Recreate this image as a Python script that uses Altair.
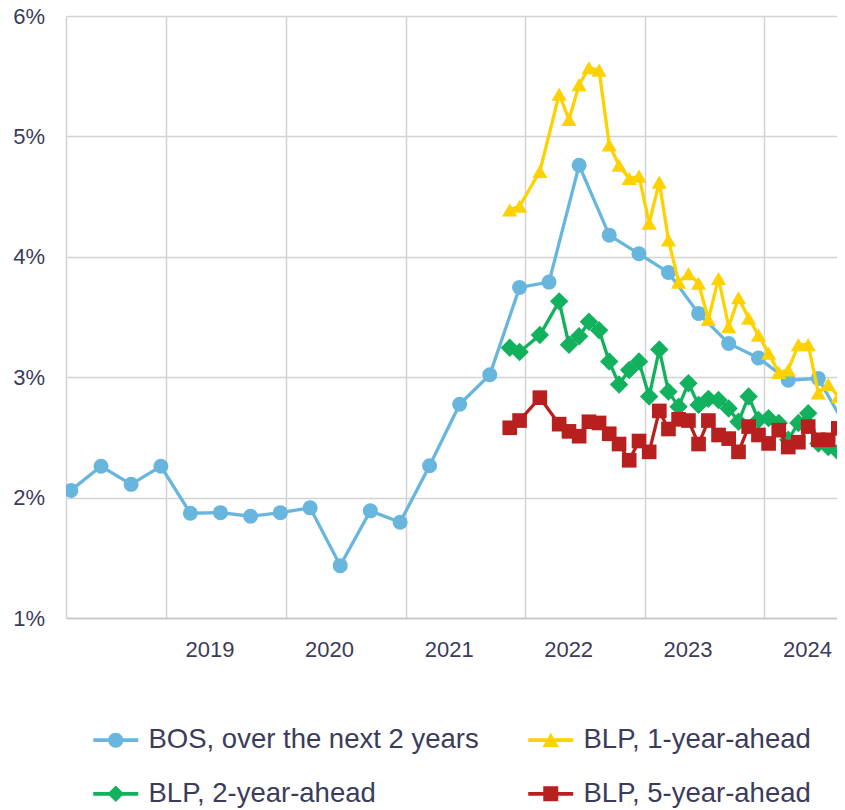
import altair as alt
import pandas as pd

# ---------------- data ----------------
bos_dates = [
    "2018-03-15", "2018-06-15", "2018-09-15", "2018-12-15",
    "2019-03-15", "2019-06-15", "2019-09-15", "2019-12-15",
    "2020-03-15", "2020-06-15", "2020-09-15", "2020-12-15",
    "2021-03-15", "2021-06-15", "2021-09-15", "2021-12-15",
    "2022-03-15", "2022-06-15", "2022-09-15", "2022-12-15",
    "2023-03-15", "2023-06-15", "2023-09-15", "2023-12-15",
    "2024-03-15", "2024-06-15", "2024-09-15",
]
bos_values = [
    2.06, 2.26, 2.11, 2.26,
    1.87, 1.875, 1.845, 1.875,
    1.915, 1.435, 1.89, 1.795,
    2.265, 2.775, 3.02, 3.745,
    3.79, 4.76, 4.18, 4.025,
    3.87, 3.53, 3.28, 3.16,
    2.975, 2.99, 2.55,
]

blp_dates = [
    "2021-11-15", "2021-12-15", "2022-02-15", "2022-04-15", "2022-05-15",
    "2022-06-15", "2022-07-15", "2022-08-15", "2022-09-15", "2022-10-15",
    "2022-11-15", "2022-12-15", "2023-01-15", "2023-02-15", "2023-03-15",
    "2023-04-15", "2023-05-15", "2023-06-15", "2023-07-15", "2023-08-15",
    "2023-09-15", "2023-10-15", "2023-11-15", "2023-12-15", "2024-01-15",
    "2024-02-15", "2024-03-15", "2024-04-15", "2024-05-15", "2024-06-15",
    "2024-07-15", "2024-08-15",
]
blp_1y_dates = blp_dates + ["2024-09-15"]
blp_1y = [
    4.39, 4.42, 4.71, 5.35, 5.14, 5.43, 5.57, 5.55, 4.93, 4.76, 4.65, 4.67,
    4.28, 4.62, 4.14, 3.79, 3.86, 3.78, 3.48, 3.82, 3.42, 3.66, 3.49, 3.35,
    3.20, 3.04, 3.06, 3.27, 3.27, 2.87, 2.94, 2.84, 2.52,
]
blp_2y = [
    3.245, 3.21, 3.35, 3.63, 3.27, 3.34, 3.46, 3.39, 3.13, 2.94, 3.06, 3.13,
    2.84, 3.23, 2.88, 2.755, 2.95, 2.77, 2.82, 2.81, 2.74, 2.63, 2.84, 2.645,
    2.66, 2.62, 2.48, 2.62, 2.70, 2.45, 2.42, 2.38,
]
blp_5y = [
    2.58, 2.64, 2.83, 2.61, 2.55, 2.51, 2.63, 2.62, 2.53, 2.445, 2.31, 2.47,
    2.38, 2.72, 2.57, 2.65, 2.64, 2.445, 2.64, 2.52, 2.49, 2.38, 2.59, 2.52,
    2.45, 2.56, 2.42, 2.46, 2.59, 2.48, 2.48, 2.575,
]

series_names = [
    "BOS, over the next 2 years",
    "BLP, 1-year-ahead",
    "BLP, 2-year-ahead",
    "BLP, 5-year-ahead",
]
series_colors = ["#68b6dd", "#fdd200", "#12b15e", "#b8201f"]
series_shapes = ["circle", "triangle-up", "diamond", "square"]
series_sizes = [225, 230, 340, 215]

# legend symbols: line + marker (unit = sqrt(size)/2 px)
legend_paths = [
    "M-3,-0.25H3V0.25H-3Z M1,0A1,1,0,1,1,-1,0A1,1,0,1,1,1,0Z",
    "M-3,-0.25H3V0.25H-3Z M0,-1L1.1,0.9L-1.1,0.9Z",
    "M-3,-0.25H3V0.25H-3Z M0,-1.1L1.1,0L0,1.1L-1.1,0Z",
    "M-3,-0.25H3V0.25H-3Z M-1,-1H1V1H-1Z",
]

frames = [
    pd.DataFrame({"date": bos_dates, "value": bos_values, "series": series_names[0]}),
    pd.DataFrame({"date": blp_1y_dates, "value": blp_1y, "series": series_names[1]}),
    pd.DataFrame({"date": blp_dates, "value": blp_2y, "series": series_names[2]}),
    pd.DataFrame({"date": blp_dates, "value": blp_5y, "series": series_names[3]}),
]

TEXT = "#3b3b5c"
GRID = "#d3d3d3"
FONT = "Liberation Sans"

x_enc = alt.X(
    "date:T",
    scale=alt.Scale(domain=[alt.DateTime(year=2018, month=2, date=28),
                            alt.DateTime(year=2024, month=8, date=11)]),
    axis=alt.Axis(
        title=None,
        format="%Y",
        values=[alt.DateTime(year=y, month=1, date=1) for y in range(2019, 2025)],
        grid=True, gridColor=GRID, gridWidth=1.5,
        ticks=False, tickSize=0,
        domain=True, domainColor="#c4c4c4", domainWidth=1.5,
        labelOffset=43, labelFlush=False, labelOverlap=False,
        labelFontSize=22, labelFont=FONT, labelColor=TEXT, labelPadding=21,
    ),
)
y_enc = alt.Y(
    "value:Q",
    scale=alt.Scale(domain=[1, 6], nice=False, zero=False),
    axis=alt.Axis(
        title=None,
        values=[1, 2, 3, 4, 5, 6],
        labelExpr="datum.value + '%'",
        grid=True, gridColor=GRID, gridWidth=1.5,
        ticks=False, tickSize=0,
        domain=True, domainColor=GRID, domainWidth=1.5,
        labelFontSize=22, labelFont=FONT, labelColor=TEXT, labelPadding=21.5,
    ),
)

layers = []
for df, c, shp, sz in zip(frames, series_colors, series_shapes, series_sizes):
    base = alt.Chart(df)
    layers.append(base.mark_line(color=c, strokeWidth=3.3, clip=True).encode(x=x_enc, y=y_enc))
    layers.append(
        base.mark_point(shape=shp, size=sz, filled=True, color=c, opacity=1, clip=True)
        .encode(x=x_enc, y=y_enc)
    )

all_df = pd.concat(frames, ignore_index=True)
legend_layer = (
    alt.Chart(all_df)
    .transform_filter("false")
    .mark_point(filled=True, opacity=1, size=225)
    .encode(
        x=x_enc,
        y=y_enc,
        color=alt.Color("series:N",
                        scale=alt.Scale(domain=series_names, range=series_colors),
                        legend=alt.Legend(title=None)),
        shape=alt.Shape("series:N",
                        scale=alt.Scale(domain=series_names, range=legend_paths),
                        legend=alt.Legend(title=None)),
    )
)

chart = (
    alt.layer(*layers, legend_layer)
    .properties(
        width=771, height=602,
        autosize=alt.AutoSizeParams(type="none"),
        padding={"left": 58, "top": 8, "right": 0, "bottom": 190},
    )
    .configure_view(stroke=None)
    .configure_legend(
        orient="none", legendX=36, legendY=710, columns=2, direction="horizontal",
        labelFontSize=27.5, labelFont=FONT, labelColor=TEXT, labelLimit=0,
        symbolSize=225, symbolStrokeWidth=0, symbolOpacity=1,
        labelOffset=19, rowPadding=25, columnPadding=49,
    )
)

chart.save("out.html", embed_options={"renderer": "svg", "actions": False})
